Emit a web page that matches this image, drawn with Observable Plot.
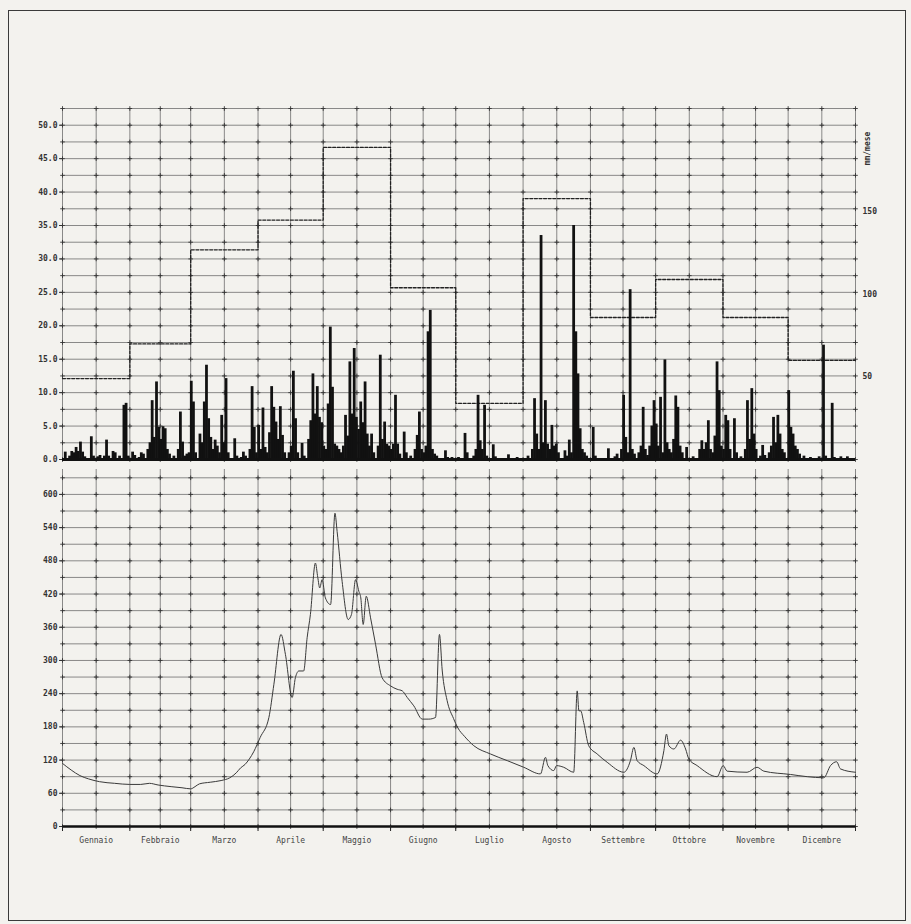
<!DOCTYPE html>
<html><head><meta charset="utf-8">
<script src="https://cdn.jsdelivr.net/npm/d3@7"></script>
<script src="https://cdn.jsdelivr.net/npm/@observablehq/plot@0.6"></script>
<style>
html,body{margin:0;padding:0;background:#f3f2ee;}
#page{position:relative;width:911px;height:924px;overflow:hidden;background:#f3f2ee;}
#frame{position:absolute;left:8px;top:10px;width:898px;height:911px;border:1.5px solid #3a3a3a;box-sizing:border-box;}
#top{position:absolute;left:0;top:0;}
#bottom{position:absolute;left:0;top:462px;}
svg{display:block;}
</style></head><body>
<div id="page"><div id="frame"></div><div id="top"></div><div id="bottom"></div></div>
<script>
// ---------------- data ----------------
const months = ["Gennaio","Febbraio","Marzo","Aprile","Maggio","Giugno","Luglio","Agosto","Settembre","Ottobre","Novembre","Dicembre"];
const monthDays = [31,28,31,30,31,30,31,31,30,31,30,31];
// monthly rainfall totals, mm/mese (right scale)
const monthlyTotal = [49,70,127,145,189,104,34,158,86,109,86,60];
const leftTicks = [0,5,10,15,20,25,30,35,40,45,50];
const rightTicks = [50,100,150];
const flowTicks = [0,60,120,180,240,300,360,420,480,540,600];
// daily rainfall [day of year, mm]
const rain = [
[2,1.1],[4,0.5],[5,1.2],[6,1.0],[7,1.8],[8,1.2],[9,2.6],[10,1.1],[11,0.4],[14,3.4],[15,0.5],[17,0.4],[18,0.6],[20,0.5],[21,2.9],[22,0.5],[24,1.2],[25,1.0],[27,0.5],[29,8.1],[30,8.4],[31,0.5],
[33,1.1],[34,0.6],[36,0.3],[37,1.0],[38,0.8],[40,1.5],[41,2.5],[42,8.8],[43,3.3],[44,11.6],[45,4.8],[46,3.0],[47,4.9],[48,4.6],[49,1.5],[50,0.8],[52,0.5],[54,1.5],[55,7.1],[56,2.6],[57,0.5],[58,0.8],[59,1.0],
[60,11.7],[61,8.6],[62,1.0],[64,3.8],[65,2.5],[66,8.6],[67,14.1],[68,6.1],[69,3.3],[70,1.5],[71,2.9],[72,2.0],[73,1.0],[74,6.6],[75,2.5],[76,12.1],[77,1.0],[80,3.1],[81,0.5],[83,0.3],[84,1.1],[85,0.5],[87,1.5],[88,10.9],[89,4.8],[90,1.0],
[91,5.1],[92,1.5],[93,7.7],[94,1.8],[95,1.0],[96,4.0],[97,10.9],[98,7.8],[99,5.6],[100,3.0],[101,7.9],[102,3.6],[103,1.0],[105,1.0],[106,2.0],[107,13.2],[108,6.1],[109,1.0],[111,2.4],[112,0.5],[114,3.0],[115,5.8],[116,12.8],[117,6.8],[118,10.9],[119,6.3],[120,5.5],
[121,2.0],[122,1.5],[123,8.3],[124,19.8],[125,10.8],[126,2.3],[127,2.0],[128,1.5],[129,1.0],[130,2.0],[131,6.6],[132,3.5],[133,14.6],[134,6.8],[135,16.6],[136,6.3],[137,4.5],[138,8.6],[139,5.5],[140,11.6],[141,3.8],[142,2.0],[143,3.8],[144,1.0],[146,2.0],[147,15.6],[148,3.0],[149,5.6],[150,2.3],[151,2.0],
[152,1.5],[153,2.3],[154,9.6],[155,2.3],[156,0.8],[158,4.1],[159,1.0],[161,0.5],[163,1.5],[164,3.6],[165,7.1],[166,1.5],[167,1.0],[168,2.0],[169,19.1],[170,22.3],[171,1.5],[172,0.8],[173,0.5],[177,1.3],[178,0.3],[180,0.3],
[183,0.3],[186,3.9],[187,1.0],[190,0.5],[191,1.5],[192,9.6],[193,2.8],[194,1.5],[195,8.1],[196,0.5],[199,2.2],[200,0.4],[206,0.7],[210,0.3],
[215,0.5],[217,1.5],[218,9.1],[219,3.8],[220,1.5],[221,33.5],[222,2.5],[223,8.8],[224,2.3],[225,1.5],[226,5.1],[227,2.0],[228,2.3],[229,1.0],[232,1.3],[233,0.5],[234,2.9],[235,1.0],[236,35.0],[237,19.1],[238,12.8],[239,4.6],[240,1.5],[241,1.0],[242,0.5],
[245,4.8],[246,0.5],[252,1.6],[255,0.4],[256,0.8],[258,1.5],[259,9.6],[260,3.3],[261,1.0],[262,25.4],[263,1.5],[264,0.8],[266,1.0],[267,2.0],[268,7.8],[269,1.5],[270,0.6],[271,2.0],[272,5.0],[273,8.8],
[274,5.3],[275,2.0],[276,9.3],[277,1.0],[278,14.9],[279,2.5],[280,1.5],[281,1.0],[282,3.0],[283,9.5],[284,7.8],[285,2.0],[286,1.0],[288,1.8],[291,0.4],[294,1.5],[295,2.8],[296,1.5],[297,2.5],[298,5.8],[299,1.5],[300,1.0],[301,3.5],[302,14.6],[303,10.3],[304,2.0],
[305,1.5],[306,6.6],[307,5.8],[308,1.5],[310,6.1],[311,1.0],[313,0.4],[315,1.5],[316,8.8],[317,3.0],[318,10.6],[319,3.8],[320,1.5],[322,0.5],[323,2.1],[324,0.6],[326,1.0],[327,2.0],[328,6.3],[329,2.5],[330,6.6],[331,3.8],[332,1.5],[333,1.0],
[335,10.3],[336,4.8],[337,3.8],[338,2.0],[339,1.5],[340,0.8],[342,0.5],[345,0.3],[349,0.4],[351,17.1],[352,0.5],[355,8.4],[356,0.3],[359,0.4],[362,0.4]
];
// daily discharge [day of year, value]
const flow = [
[0,114],[4,102],[8,92],[12,86],[17,81],[24,78],[31,76],[36,76],[40,78],[44,75],[50,72],[55,70],[59,68],[61,72],[63,77],[68,80],[73,83],[77,88],[80,97],[82,106],[84,112],[86,122],[88,135],[91,161],[95,197],[97.3,257],[100.6,347],[102.6,311],[105.7,233],[107.2,269],[108.8,281],[111,281],[112.6,341],[114.1,383],[116.4,476],[117.5,450],[118.4,431],[119.5,446],[121,413],[123.4,401],[125.4,566],[126.4,533],[128.7,443],[131.5,374],[133,383],[134.9,446],[136.4,425],[137.3,413],[138.4,365],[139.8,416],[141.8,377],[144.1,329],[147.1,269],[151,254],[154,248],[156.4,245],[158.7,233],[161.7,218],[165.6,194],[168.6,194],[171.7,197],[173.5,347],[174.8,281],[177,228],[180,195],[182,178],[185,163],[189.3,146],[197,131],[204.7,119],[212.3,107],[220,95],[222.3,125],[223.4,110],[226.1,101],[227.4,110],[230.7,107],[235.3,98],[236.9,245],[237.7,209],[238.5,209],[239.9,188],[242.2,146],[246.1,131],[250.7,116],[258.4,98],[261.4,119],[263,143],[264.5,119],[267.6,110],[273.7,95],[276.8,137],[278,167],[279.1,146],[281.4,140],[284.5,156],[286.8,140],[288.3,122],[292.1,110],[301.3,90],[304.1,110],[305.9,100],[315.1,98],[319.7,107],[322.8,100],[335.1,94],[342.8,90],[350.4,88],[353.5,110],[356.3,117],[358.1,104],[365,98]
];

// ---------------- derived ----------------
const monthStart = [0, ...d3.cumsum(monthDays)].slice(0, 12);
const monthEnd = monthStart.map((s, i) => s + monthDays[i]);
const monthMid = monthStart.map((s, i) => s + monthDays[i] / 2);
const gridX = [...monthStart, ...monthMid, 365].sort((a, b) => a - b);
const K = 12.35 / 50; // mm/mese -> left-scale units
const steps = monthlyTotal.flatMap((v, i) => [{x: monthStart[i], y: v * K}, {x: monthEnd[i], y: v * K}]);
const gridYTop = d3.range(0, 52.51, 2.5);
const gridYBot = d3.range(0, 630.1, 30);
const crossTop = gridX.flatMap(x => gridYTop.map(y => ({x, y})));
const crossBot = gridX.flatMap(x => gridYBot.map(y => ({x, y})));

const font = {fontFamily: "'DejaVu Sans Mono', monospace", fontSize: "8px", background: "transparent", color: "#333", overflow: "visible"};
const gridStroke = "#666";

const topChart = Plot.plot({
  width: 911, height: 462, marginLeft: 62, marginRight: 56, marginTop: 108, marginBottom: 3,
  x: {domain: [0, 365], axis: null},
  y: {domain: [0, 52.5], axis: null},
  style: font,
  marks: [
    Plot.ruleY(gridYTop, {stroke: gridStroke, strokeWidth: 0.75}),
    Plot.ruleX(gridX, {y1: 0, y2: 52.5, stroke: gridStroke, strokeWidth: 0.75}),
    Plot.dot(crossTop, {x: "x", y: "y", symbol: "plus", r: 1.6, stroke: "#333", strokeWidth: 0.9}),
    Plot.line(steps, {x: "x", y: "y", stroke: "#222", strokeWidth: 1.3, strokeDasharray: "3,1.6"}),
    Plot.rect(rain, {x1: d => d[0] - 1, x2: d => d[0], y1: 0, y2: d => d[1], fill: "#111", insetLeft: -0.3, insetRight: -0.3}),
    Plot.ruleY([0], {stroke: "#111", strokeWidth: 3}),
    Plot.axisY({ticks: leftTicks, tickFormat: d3.format(".1f"), tickSize: 3, tickPadding: 2, label: null, fontWeight: "bold", fill: "#333"}),
    Plot.axisY({anchor: "right", ticks: rightTicks.map(v => v * K), tickFormat: v => String(Math.round(v / K)), tickSize: 0, tickPadding: 7, label: null, fontWeight: "bold", fill: "#333"}),
    Plot.text(["mm/mese"], {frameAnchor: "top-right", dx: 12, dy: 40, rotate: -90, textAnchor: "middle", lineAnchor: "middle", fontWeight: "bold", fill: "#333"})
  ]
});
document.getElementById("top").append(topChart);

const bottomChart = Plot.plot({
  width: 911, height: 398, marginLeft: 62, marginRight: 56, marginTop: 7, marginBottom: 34,
  x: {domain: [0, 365], axis: null},
  y: {domain: [0, 645], axis: null},
  style: font,
  marks: [
    Plot.ruleY(gridYBot, {stroke: gridStroke, strokeWidth: 0.75}),
    Plot.ruleX(gridX, {y1: 0, y2: 645, stroke: gridStroke, strokeWidth: 0.75}),
    Plot.dot(crossBot, {x: "x", y: "y", symbol: "plus", r: 1.6, stroke: "#333", strokeWidth: 0.9}),
    Plot.line(flow, {x: d => d[0], y: d => d[1], stroke: "#3a3a3a", strokeWidth: 1, curve: "monotone-x"}),
    Plot.ruleY([0], {stroke: "#111", strokeWidth: 2.5}),
    Plot.axisY({ticks: flowTicks, tickSize: 3, tickPadding: 2, label: null, fontWeight: "bold", fill: "#333"}),
    Plot.axisX({ticks: [...monthStart, 365], tickSize: 5, tickFormat: () => "", label: null, stroke: "#222"}),
    Plot.axisX({ticks: monthMid, tickSize: 0, tickPadding: 11, tickFormat: d => months[monthMid.indexOf(d)], label: null, fill: "#444"})
  ]
});
document.getElementById("bottom").append(bottomChart);
</script>
</body></html>
